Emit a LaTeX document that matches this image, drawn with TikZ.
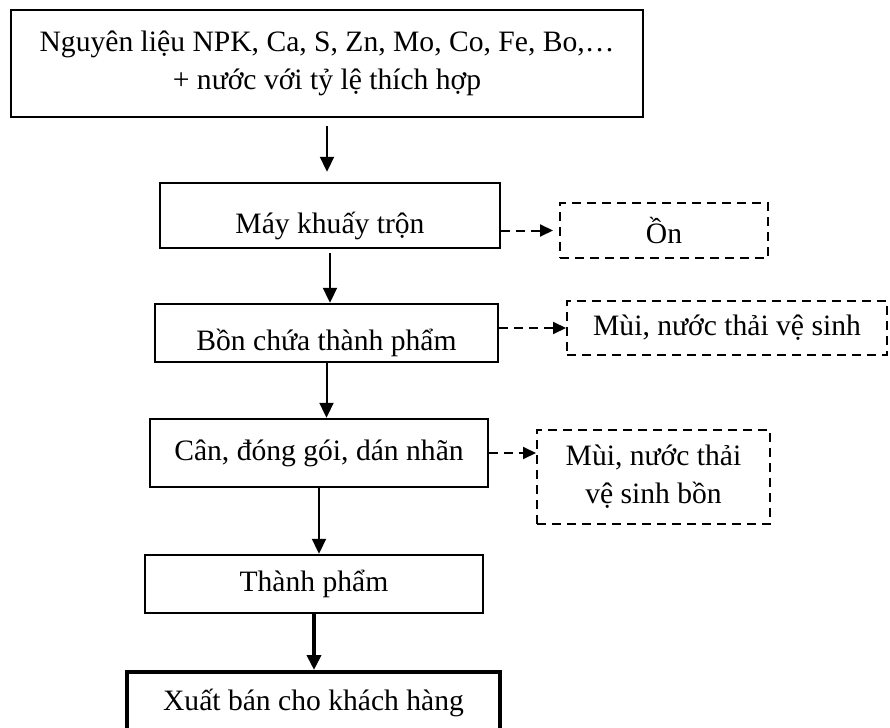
\documentclass[tikz,border=0pt]{standalone}
\usepackage{fontspec}
\setmainfont{Liberation Serif}
\usetikzlibrary{arrows.meta}

\begin{document}
\begin{tikzpicture}[x=0.5pt, y=-0.5pt,
  every node/.style={font=\fontsize{14.8}{19}\selectfont, inner sep=0pt},
  box/.style={draw=black, line width=1.2pt, rectangle},
  lowtext/.style={text height=21pt, text depth=3.3pt},
  dbox/.style={draw=black, line width=1pt, dash pattern=on 4.5pt off 3pt},
  arr/.style={-{Triangle[length=7.5pt,width=7pt]}, line width=1pt},
  darr/.style={-{Triangle[length=6.5pt,width=6pt]}, line width=1pt, dash pattern=on 4.5pt off 3pt}]
  \useasboundingbox (0,0) rectangle (890,728);
  % main line
  \node[box, minimum width=316pt, minimum height=53.5pt, align=center] (input) at (327,63.5) {Nguyên liệu NPK, Ca, S, Zn, Mo, Co, Fe, Bo,…\\+ nước với tỷ lệ thích hợp};
  \node[box, lowtext, minimum width=170pt, minimum height=32.5pt] (mixer) at (330,215.5) {Máy khuấy trộn};
  \node[box, lowtext, minimum width=171.5pt, minimum height=29pt] (tank) at (326.5,333) {Bồn chứa thành phẩm};
  \node[box, minimum width=169pt, minimum height=34pt] (pack) at (319,453) {Cân, đóng gói, dán nhãn};
  \node[box, minimum width=169pt, minimum height=29pt] (product) at (314,584) {Thành phẩm};
  \node[box, line width=2pt, minimum width=186.5pt, minimum height=31pt] (sale) at (313.5,703) {Xuất bán cho khách hàng};
  % waste side
  \node[dbox, minimum width=104pt, minimum height=27.5pt] (noise) at (664,230.5) {Ồn};
  \node[dbox, minimum width=160pt, minimum height=27pt] (odour) at (727,328) {Mùi, nước thải vệ sinh};
  \node[dbox, minimum width=116.5pt, minimum height=47pt, align=center] (wash) at (653.5,477) {Mùi, nước thải\\vệ sinh bồn};
  % connectors
  \draw[arr, shorten <=4pt, shorten >=5pt] (input.south) -- (input.south |- mixer.north);
  \draw[arr, shorten <=2pt] (mixer.south) -- (mixer.south |- tank.north);
  \draw[arr] (tank.south) -- (tank.south |- pack.north);
  \draw[arr] (pack.south) -- (pack.south |- product.north);
  \draw[arr, line width=2pt] (product.south) -- (product.south |- sale.north);
  \draw[darr, shorten >=3pt] (mixer.east |- noise.west) -- (noise.west);
  \draw[darr] (tank.east |- odour.west) -- (odour.west);
  \draw[darr] (pack.east) -- (pack.east -| wash.west);
\end{tikzpicture}
\end{document}
